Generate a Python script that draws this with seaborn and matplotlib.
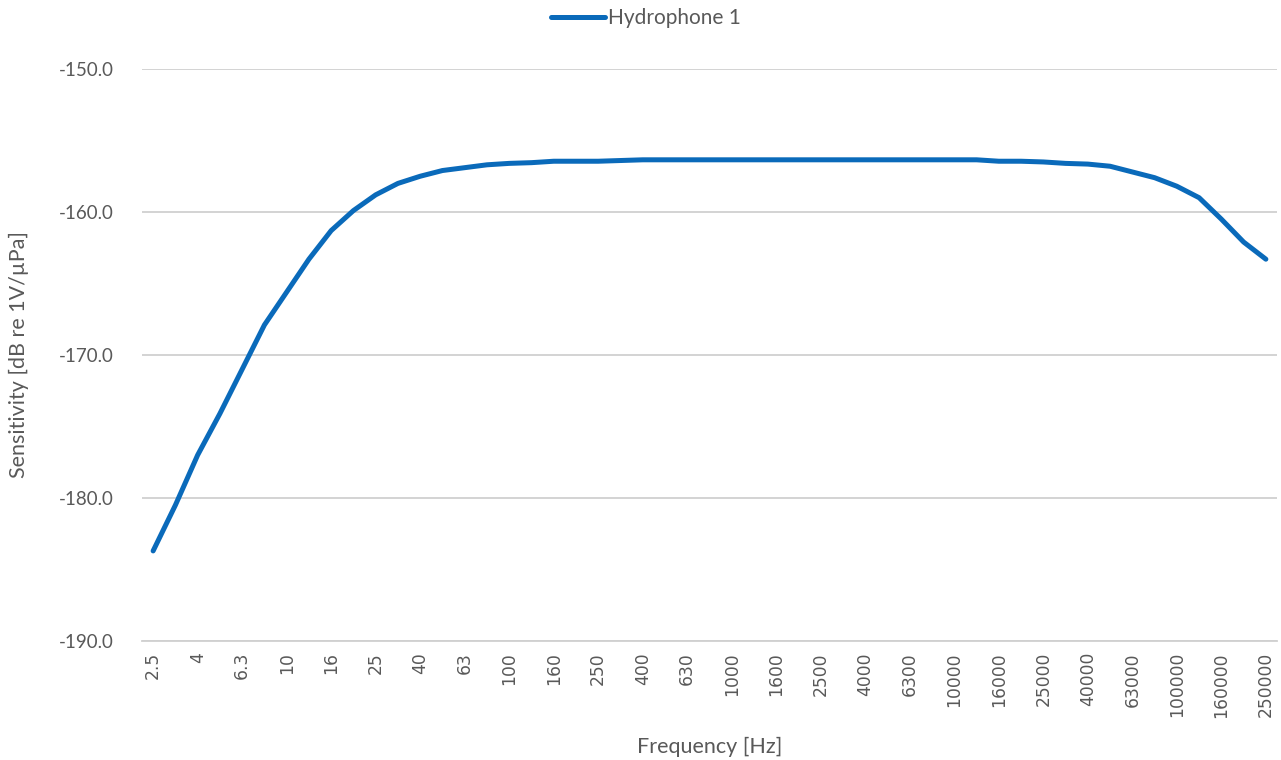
import matplotlib
matplotlib.use("Agg")
import matplotlib.pyplot as plt
import seaborn as sns
import numpy as np
import pandas as pd

frequencies = ["2.5", "3.15", "4", "5", "6.3", "8", "10", "12.5", "16", "20", "25", "31.5",
               "40", "50", "63", "80", "100", "125", "160", "200", "250", "315", "400", "500",
               "630", "800", "1000", "1250", "1600", "2000", "2500", "3150", "4000", "5000",
               "6300", "8000", "10000", "12500", "16000", "20000", "25000", "31500", "40000",
               "50000", "63000", "80000", "100000", "125000", "160000", "200000", "250000"]
sensitivity = [-183.7, -180.5, -177.0, -174.1, -171.0, -167.9, -165.6, -163.3, -161.3, -159.9,
               -158.8, -158.0, -157.5, -157.1, -156.9, -156.7, -156.6, -156.55, -156.45, -156.45,
               -156.45, -156.4, -156.35, -156.35, -156.35, -156.35, -156.35, -156.35, -156.35, -156.35,
               -156.35, -156.35, -156.35, -156.35, -156.35, -156.35, -156.35, -156.35, -156.45, -156.45,
               -156.5, -156.6, -156.65, -156.8, -157.2, -157.6, -158.2, -159.0, -160.5, -162.1,
               -163.3]
series_name = "Hydrophone 1"

sns.set_theme(style="white")
plt.rcParams['font.family'] = ['Liberation Sans Narrow', 'Lato', 'DejaVu Sans']

df = pd.DataFrame({"pos": np.arange(len(frequencies)), "val": sensitivity, "series": series_name})

fig = plt.figure(figsize=(12.81, 7.6), dpi=100)
ax = fig.add_axes([142/1281, 1 - 641/760, (1277-142)/1281, (641-69)/760])

sns.lineplot(data=df, x="pos", y="val", hue="series", palette=["#0A6ABA"], linewidth=3.6,
             ax=ax, legend=False, solid_capstyle="round")

ax.set_xlim(-0.5, len(frequencies) - 0.5)
ax.set_ylim(-190, -150)
ax.set_yticks(np.arange(-190, -149, 10))
ax.set_yticklabels([f"{v:.1f}" for v in np.arange(-190, -149, 10)], fontsize=13.5, color="#595959")
ax.yaxis.grid(True, color="#d0d0d0", linewidth=1.3)
ax.xaxis.grid(False)

ticks = np.arange(0, len(frequencies), 2)
ax.set_xticks(ticks)
ax.set_xticklabels([frequencies[i] for i in ticks], rotation=90, fontsize=12.3,
                   color="#595959", family="DejaVu Sans")
ax.tick_params(axis="both", length=0, pad=8)
ax.tick_params(axis="y", pad=20)

for s in ["top", "right", "left"]:
    ax.spines[s].set_visible(False)
ax.spines["bottom"].set_color("#d0d0d0")
ax.spines["bottom"].set_linewidth(1.3)

ax.set_xlabel("Frequency [Hz]", fontsize=15.5, color="#595959", labelpad=14)
ax.set_ylabel("Sensitivity [dB re 1V/µPa]", fontsize=15.5, color="#595959", labelpad=22)

from matplotlib.lines import Line2D
handle = Line2D([0], [0], color="#0A6ABA", linewidth=3.6, solid_capstyle="round")
leg = fig.legend([handle], [series_name], loc="center", bbox_to_anchor=(646/1281, 1 - 18/760),
                 frameon=False, fontsize=15, handlelength=2.6, handletextpad=0.15)
for t in leg.get_texts():
    t.set_color("#595959")

fig.savefig("out.png", dpi=100)
